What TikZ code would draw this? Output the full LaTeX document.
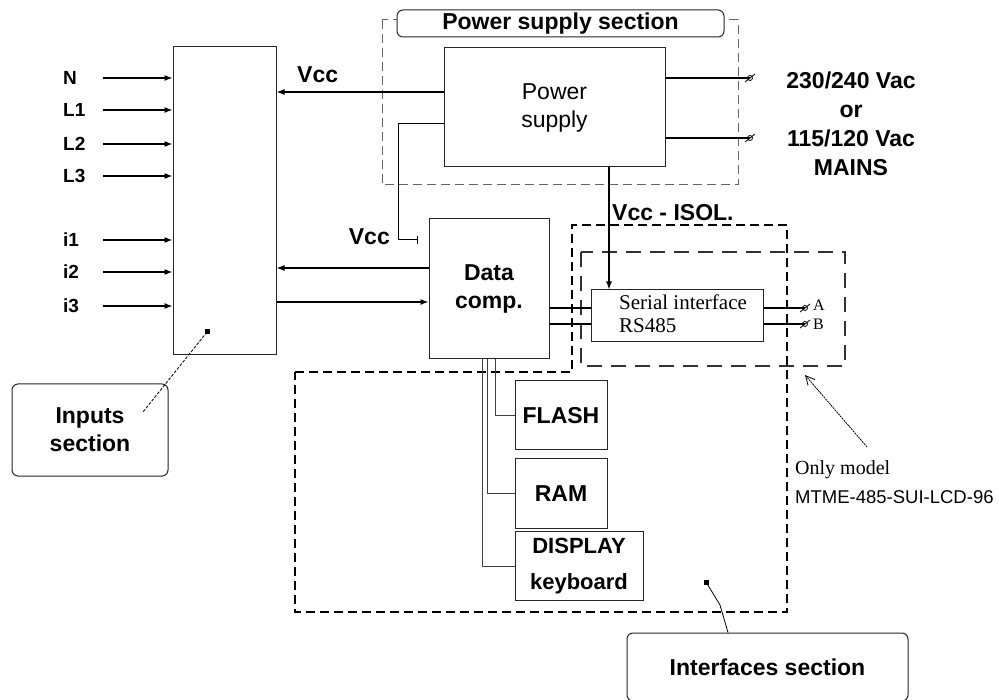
\documentclass[tikz,border=0pt]{standalone}
\usepackage{fontspec}
\setmainfont{Liberation Sans}
\newfontfamily\tnr{Liberation Serif}
\usetikzlibrary{arrows.meta,calc}
\begin{document}
\begin{tikzpicture}[x=1pt,y=-1pt,
  blk/.style={draw=black!85,line width=1pt,inner sep=0pt,align=center},
  arr/.style={-{Latex[length=8pt,width=6pt]},line width=1.1pt},
  wire/.style={line width=1.1pt},
  thin/.style={line width=0.8pt,black!75},
  lab/.style={font=\bfseries\fontsize{23}{28}\selectfont,inner sep=0pt,align=center},
  reg/.style={font=\fontsize{23}{28}\selectfont,inner sep=0pt,align=center},
  inl/.style={font=\bfseries\fontsize{19}{22}\selectfont,anchor=west,inner sep=0pt},
  secbox/.style={draw=black!85,line width=1pt,rounded corners=6pt,inner sep=0pt,align=center,fill=white},
  dashgray/.style={draw=black!60,line width=1pt,dash pattern=on 9pt off 5pt},
  dashblack/.style={draw=black,line width=1.1pt,dash pattern=on 9pt off 5pt},
  dashlong/.style={draw=black!80,line width=1.1pt,dash pattern=on 15pt off 9pt},
  terminal/.pic={\draw[line width=0.8pt] (0,0) circle (2.5pt); \draw[line width=0.8pt] (-5,4) -- (5,-4);}
]
\useasboundingbox (0,0) rectangle (999,700);

% dashed section boxes
\draw[dashgray] (382,20) rectangle (738,185);
\draw[dashblack] (295,372) -- (572,372) -- (572,225) -- (787,225) -- (787,612) -- (295,612) -- cycle;
\draw[dashlong] (581,252) rectangle (845,366);

% blocks
\node[blk,minimum width=103pt,minimum height=308pt] (inp) at (224.5,201) {};
\node[blk,reg,minimum width=221pt,minimum height=119pt] (ps) at (554.5,107.5) {Power\\supply};
\node[blk,lab,minimum width=120pt,minimum height=140pt] (dc) at (489,289) {Data\\comp.};
\node[blk,minimum width=172pt,minimum height=52pt] (si) at (677,316) {};
\node[anchor=west,inner sep=0pt,align=left,font=\tnr\fontsize{21}{23}\selectfont] (sitxt) at (619,314) {Serial interface\\RS485};
\node[blk,lab,minimum width=92pt,minimum height=69pt] (flash) at (561,415.5) {FLASH};
\node[blk,lab,minimum width=92pt,minimum height=69pt] (ram) at (561,493.5) {RAM};
\node[blk,lab,minimum width=128pt,minimum height=69pt,font=\bfseries\fontsize{22}{36}\selectfont] (disp) at (579,566) {DISPLAY\\keyboard};

% section labels
\node[secbox,lab,minimum width=327pt,minimum height=27pt] (pslab) at (560.5,23.5) {Power supply section};
\node[secbox,lab,minimum width=156pt,minimum height=92pt] (inlab) at (90,430) {Inputs\\section};
\node[secbox,lab,minimum width=281pt,minimum height=68pt] (iflab) at (767.5,667) {Interfaces section};

% input labels and arrows
\node[inl] (lN) at (63,78) {N};
\node[inl] (lL1) at (63,110) {L1};
\node[inl] (lL2) at (63,144) {L2};
\node[inl] (lL3) at (63,176) {L3};
\node[inl] (li1) at (63,240) {i1};
\node[inl] (li2) at (63,272) {i2};
\node[inl] (li3) at (63,306) {i3};
\foreach \n/\y in {N/78,L1/110,L2/144,L3/176,i1/240,i2/272,i3/306}{
  \coordinate (s\n) at (103,\y);
  \draw[arr] (s\n) -- (s\n -| inp.west);
}

% Vcc to inputs
\coordinate (yV) at (0,92);
\draw[arr] (ps.west |- yV) -- (inp.east |- yV);
\node[lab,anchor=west] (vcc1) at (297,75) {Vcc};

% Vcc to data comp
\coordinate (yV2) at (0,124);
\coordinate (vk) at (398,240);
\coordinate (vend) at (418,240);
\draw[line width=1pt,-{Bar[width=8pt]}] (ps.west |- yV2) -- (vk |- yV2) -- (vk) -- (vend);
\node[lab,anchor=east] (vcc2) at (390,237) {Vcc};

% data comp <-> inputs
\coordinate (y268) at (0,268);
\coordinate (y302) at (0,302);
\draw[arr] (dc.west |- y268) -- (inp.east |- y268);
\draw[arr] (inp.east |- y302) -- (dc.west |- y302);

% data comp -> serial interface
\coordinate (yA) at (0,308);
\coordinate (yB) at (0,324);
\draw[wire] (dc.east |- yA) -- (si.west |- yA);
\draw[wire] (dc.east |- yB) -- (si.west |- yB);

% power supply -> serial interface
\coordinate (xI) at (609,0);
\draw[arr] (ps.south -| xI) -- (si.north -| xI);
\node[lab,anchor=west] (vccisol) at (612,213) {Vcc - ISOL.};

% serial outputs A/B
\coordinate (tA) at (805,308);
\coordinate (tB) at (805,324);
\draw[wire] (si.east |- tA) -- (tA);
\draw[wire] (si.east |- tB) -- (tB);
\pic at (tA) {terminal};
\pic at (tB) {terminal};
\node[anchor=west,inner sep=0pt,font=\tnr\fontsize{16}{18}\selectfont] (lA) at (813,305) {A};
\node[anchor=west,inner sep=0pt,font=\tnr\fontsize{16}{18}\selectfont] (lB) at (813,324) {B};

% mains
\coordinate (m1) at (750,78);
\coordinate (m2) at (750,138);
\draw[wire] (ps.east |- m1) -- (m1);
\draw[wire] (ps.east |- m2) -- (m2);
\pic at (m1) {terminal};
\pic at (m2) {terminal};
\node[font=\bfseries\fontsize{23}{29}\selectfont,inner sep=0pt,align=center] (mains) at (851,124) {230/240 Vac\\or\\115/120 Vac\\MAINS};

% memory buses
\coordinate (bD) at (482,0);
\coordinate (bR) at (487,0);
\coordinate (bF) at (495,0);
\draw[thin] (dc.south -| bD) -- (bD |- disp.west) -- (disp.west);
\draw[thin] (dc.south -| bR) -- (bR |- ram.west) -- (ram.west);
\draw[thin] (dc.south -| bF) -- (bF |- flash.west) -- (flash.west);

% pointers
\coordinate (pi) at (207,332);
\coordinate (pie) at (143,412);
\fill (pi) ++(-2.5,-2.5) rectangle ++(5,5);
\draw[line width=0.8pt,dash pattern=on 3pt off 1.5pt] (pi) -- (pie);
\coordinate (pf) at (706,582);
\fill (pf) ++(-2.5,-2.5) rectangle ++(5,5);
\draw[line width=0.8pt] (pf) -- (720,605) -- (iflab.north -| 728,0);
\coordinate (om) at (867,447);
\coordinate (omt) at (805,375);
\draw[line width=0.8pt,dash pattern=on 2pt off 0.8pt,-{Straight Barb[length=9pt,width=9pt]}] (om) -- (omt);
\node[anchor=west,inner sep=0pt,font=\tnr\fontsize{20}{24}\selectfont] (only) at (795,470) {Only model};
\node[anchor=west,inner sep=0pt,font=\fontsize{18.5}{22}\selectfont] (mtme) at (795,497) {MTME-485-SUI-LCD-96};
\end{tikzpicture}
\end{document}
